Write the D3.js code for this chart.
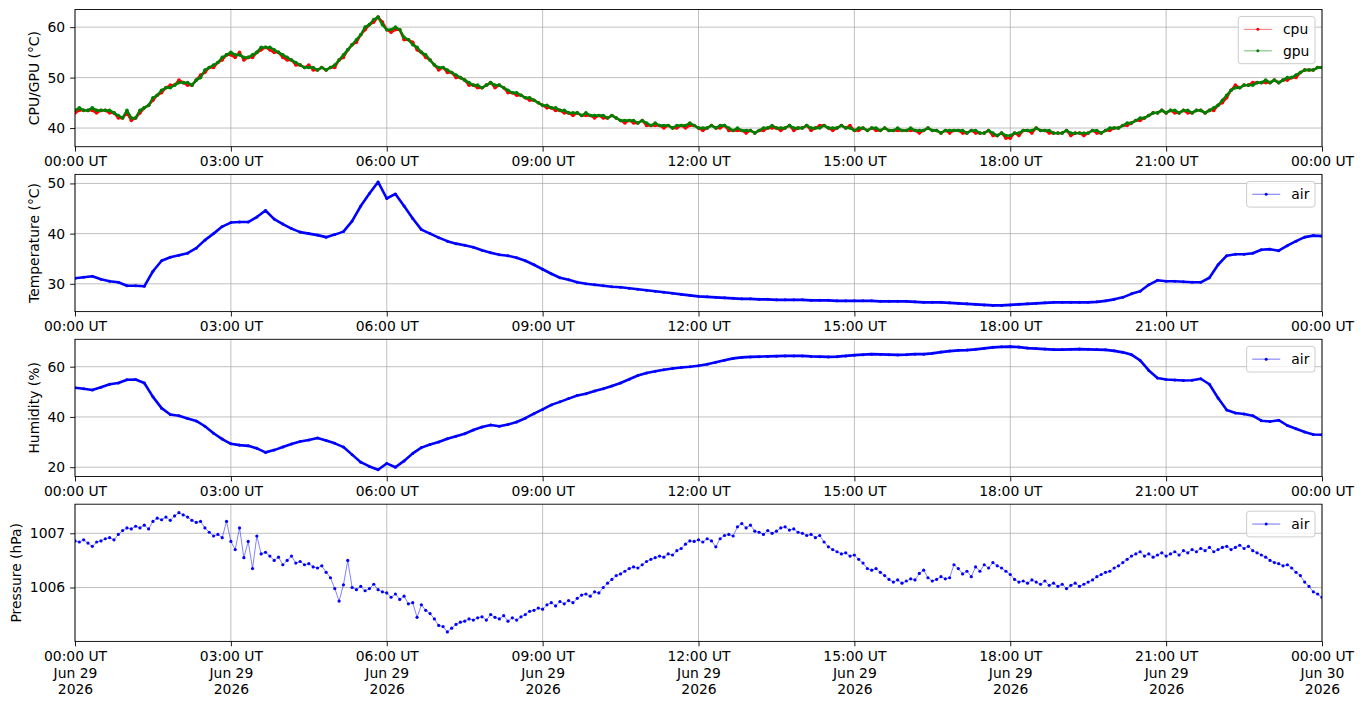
<!DOCTYPE html>
<meta charset="utf-8">
<style>
body{
  margin: 0;
  background: #fff;
  font-family: "DejaVu Sans", sans-serif;
}
svg text{
  fill: #000;
  font-size: 13.9px;
}
.grid line{
  stroke: #b0b0b0;
  stroke-width: 0.8;
}
.spine{
  fill: none;
  stroke: #000;
  stroke-width: 0.9;
}
.tick line{
  stroke: #000;
  stroke-width: 0.9;
}
.legend rect{
  fill: #fff;
  fill-opacity: 0.8;
  stroke: #cccccc;
  stroke-width: 1;
}
</style>

<svg id="chart" width="1363" height="707"></svg>

<script src="https://cdn.jsdelivr.net/npm/d3@7"></script>
<script>
// 2026-06-29 00:00 UT to 2026-06-30 00:00 UT
var startTime = Date.UTC(2026, 5, 29, 0, 0)

// one row per hour, every 5 minutes
var cpu = [
  43.0,43.5,43.5,43.5,43.5,43.0,43.5,43.5,43.0,43.0,42.0,42.0,
  43.0,41.5,42.0,43.0,44.0,44.5,45.5,46.5,47.0,48.0,48.5,48.5,
  49.5,49.0,48.5,48.5,49.5,50.5,51.0,52.0,52.0,53.0,53.5,54.5,
  54.5,54.0,55.0,53.5,54.0,54.0,55.0,55.5,56.0,55.5,55.0,55.0,
  54.0,53.5,53.5,52.5,52.5,52.0,52.5,51.5,51.5,52.0,51.5,52.0,
  52.0,53.5,54.0,55.5,56.5,57.0,58.5,59.5,60.5,61.0,62.0,61.0,
  59.5,59.0,59.5,59.5,57.5,57.5,57.0,55.5,55.0,54.0,53.5,52.5,
  51.5,52.0,51.0,51.0,50.0,50.0,49.5,48.5,48.5,48.0,48.0,48.5,
  49.0,48.0,48.5,48.0,47.0,47.0,46.5,46.5,46.0,45.5,45.5,45.0,
  44.5,44.0,44.0,43.5,43.5,43.0,43.0,42.5,43.0,42.5,42.5,42.5,
  42.0,42.5,42.0,42.0,42.5,42.0,41.5,41.0,41.5,41.0,41.0,41.5,
  40.5,40.5,40.5,40.5,40.0,40.5,40.0,40.0,40.5,40.0,40.5,40.5,
  40.0,39.5,40.0,40.5,40.0,40.0,40.5,39.5,39.5,39.5,39.5,39.0,
  39.5,39.0,39.5,39.5,40.0,40.0,40.0,39.5,40.0,40.5,39.5,40.0,
  40.0,40.5,39.5,40.0,40.5,40.5,40.0,39.5,40.0,40.5,40.0,40.5,
  39.5,39.5,40.0,39.5,40.0,39.5,39.5,40.0,39.5,39.5,39.5,39.5,
  39.5,39.5,39.5,39.0,39.5,40.0,39.5,39.5,39.0,39.5,39.0,39.5,
  39.5,39.0,39.0,39.5,39.0,39.0,39.0,39.5,38.5,38.5,39.0,38.0,
  38.0,39.0,38.5,39.5,39.5,39.0,40.0,39.5,39.5,39.0,39.0,39.0,
  39.0,39.5,38.5,39.0,39.0,38.5,39.0,39.5,39.0,39.0,39.5,39.5,
  40.0,40.0,40.5,40.5,41.0,41.5,41.5,42.0,42.5,43.0,43.0,43.5,
  43.0,43.5,43.0,43.0,43.5,43.0,43.0,43.5,43.5,43.0,43.5,43.5,
  44.5,45.0,46.0,47.5,48.5,48.0,48.5,48.5,49.0,49.0,49.0,49.0,
  49.0,49.5,49.0,49.5,49.5,50.0,50.0,51.0,51.5,51.5,51.5,52.0,
  52.0
]

var gpu = [
  43.5,44.0,43.5,43.5,44.0,43.5,43.5,43.5,43.5,43.0,42.5,42.0,
  43.5,42.0,42.0,43.5,44.0,44.5,46.0,46.5,47.5,48.0,48.0,48.5,
  49.0,49.0,49.0,48.5,49.5,50.0,51.5,52.0,52.5,53.0,54.0,54.5,
  55.0,54.5,54.5,54.0,54.0,54.5,55.0,56.0,56.0,56.0,55.5,55.0,
  54.5,54.0,53.5,53.0,52.5,52.0,52.0,52.0,51.5,52.0,51.5,52.0,
  52.5,53.5,54.5,55.5,56.5,57.5,58.5,60.0,60.5,61.5,62.0,60.5,
  59.5,59.5,60.0,59.5,58.0,57.5,56.5,56.0,55.0,54.5,53.5,52.5,
  52.0,52.0,51.5,51.0,50.5,50.0,49.5,49.0,48.5,48.5,48.0,48.5,
  49.0,48.5,48.5,48.0,47.5,47.0,47.0,46.5,46.0,46.0,45.5,45.0,
  44.5,44.5,44.0,44.0,43.5,43.5,43.0,43.0,43.0,42.5,43.0,42.5,
  42.5,42.5,42.5,42.0,42.5,42.0,41.5,41.5,41.5,41.5,41.0,41.5,
  41.0,40.5,41.0,40.5,40.5,40.5,40.0,40.5,40.5,40.5,41.0,40.5,
  40.0,40.0,40.0,40.5,40.0,40.5,40.5,40.0,39.5,40.0,39.5,39.5,
  39.5,39.0,39.5,40.0,40.0,40.5,40.0,40.0,40.0,40.5,40.0,40.0,
  40.0,40.5,40.0,40.0,40.0,40.5,40.0,40.0,40.0,40.5,40.0,40.0,
  39.5,40.0,40.0,39.5,40.0,40.0,39.5,40.0,39.5,39.5,40.0,39.5,
  39.5,40.0,39.5,39.5,39.5,40.0,39.5,39.5,39.0,39.5,39.5,39.5,
  39.5,39.5,39.0,39.5,39.5,39.0,39.0,39.5,39.0,38.5,39.0,38.5,
  38.5,39.0,39.0,39.5,39.5,39.5,40.0,39.5,39.5,39.5,39.0,39.0,
  39.0,39.5,39.0,39.0,39.0,39.0,39.0,39.5,39.5,39.0,39.5,40.0,
  40.0,40.0,40.5,41.0,41.0,41.5,42.0,42.0,42.5,43.0,43.0,43.5,
  43.0,43.5,43.5,43.0,43.5,43.5,43.0,43.5,43.5,43.0,43.5,44.0,
  44.5,45.5,46.5,47.5,48.0,48.0,48.5,48.5,48.5,49.0,49.0,49.5,
  49.0,49.5,49.0,49.5,50.0,50.0,50.5,51.0,51.5,51.5,51.5,52.0,
  52.0
]

// one row per 100 minutes, every 10 minutes
var airTemperature = [
  31.1,31.3,31.5,30.9,30.5,30.3,29.6,29.6,29.5,32.5,
  34.6,35.3,35.7,36.1,37.1,38.7,40.0,41.4,42.2,42.3,
  42.3,43.3,44.6,42.9,41.9,41.0,40.3,40.0,39.7,39.3,
  39.8,40.4,42.5,45.5,48.0,50.3,47.0,47.9,45.5,43.0,
  40.8,40.0,39.2,38.5,38.0,37.7,37.3,36.7,36.2,35.8,
  35.6,35.2,34.6,33.8,32.9,32.0,31.2,30.8,30.3,30.0,
  29.8,29.6,29.4,29.3,29.1,28.9,28.7,28.5,28.3,28.1,
  27.9,27.7,27.5,27.4,27.3,27.2,27.1,27.0,27.0,26.9,
  26.9,26.8,26.8,26.8,26.8,26.7,26.7,26.7,26.6,26.6,
  26.6,26.6,26.6,26.5,26.5,26.5,26.5,26.4,26.3,26.3,
  26.3,26.2,26.1,26.0,25.9,25.8,25.7,25.7,25.8,25.9,
  26.0,26.1,26.2,26.3,26.3,26.3,26.3,26.3,26.4,26.6,
  26.9,27.3,28.0,28.5,29.8,30.7,30.5,30.5,30.4,30.3,
  30.3,31.2,33.8,35.6,35.9,35.9,36.1,36.8,36.9,36.6,
  37.6,38.5,39.3,39.6,39.5
]

var airHumidity = [
  51.6,51.2,50.7,51.8,53.0,53.5,54.8,54.9,53.5,48.0,
  43.5,41.0,40.5,39.4,38.4,36.3,33.5,31.2,29.3,28.8,
  28.5,27.5,25.9,26.8,28.0,29.2,30.2,30.8,31.6,30.6,
  29.5,28.0,25.0,22.0,20.3,19.0,21.5,20.0,22.5,25.5,
  27.8,29.0,30.0,31.3,32.3,33.3,34.8,36.0,36.8,36.3,
  37.0,38.0,39.5,41.3,43.0,44.8,46.0,47.3,48.5,49.2,
  50.3,51.2,52.3,53.5,55.0,56.5,57.5,58.2,58.8,59.3,
  59.7,60.0,60.4,61.0,61.8,62.6,63.3,63.7,63.9,64.0,
  64.1,64.2,64.3,64.3,64.3,64.1,64.0,63.9,64.0,64.3,
  64.6,64.8,65.0,64.9,64.8,64.7,64.8,65.0,65.0,65.3,
  65.8,66.2,66.5,66.6,66.9,67.3,67.7,67.9,68.0,67.8,
  67.4,67.2,67.0,66.8,66.8,66.9,67.0,66.9,66.8,66.7,
  66.3,65.7,64.8,62.5,58.5,55.5,54.9,54.7,54.5,54.6,
  55.2,53.0,47.5,42.8,41.6,41.2,40.5,38.5,38.2,38.7,
  36.6,35.3,34.0,33.0,32.9
]

// one row per hour, every 5 minutes
var airPressure = [
  1006.86,1006.84,1006.88,1006.82,1006.76,1006.84,1006.86,1006.90,1006.92,1006.88,1006.98,1007.05,
  1007.10,1007.08,1007.13,1007.10,1007.15,1007.08,1007.22,1007.28,1007.25,1007.30,1007.24,1007.32,
  1007.38,1007.34,1007.30,1007.24,1007.20,1007.22,1007.10,1007.02,1006.95,1006.98,1006.92,1007.22,
  1006.85,1006.70,1007.10,1006.55,1006.85,1006.35,1006.95,1006.62,1006.65,1006.58,1006.50,1006.56,
  1006.42,1006.50,1006.58,1006.45,1006.48,1006.42,1006.44,1006.38,1006.36,1006.40,1006.28,1006.18,
  1005.98,1005.75,1006.05,1006.50,1006.00,1005.96,1006.02,1005.94,1005.98,1006.06,1005.96,1005.92,
  1005.90,1005.82,1005.88,1005.78,1005.84,1005.70,1005.72,1005.45,1005.68,1005.58,1005.52,1005.42,
  1005.30,1005.28,1005.18,1005.25,1005.32,1005.36,1005.38,1005.42,1005.40,1005.44,1005.46,1005.40,
  1005.50,1005.45,1005.42,1005.48,1005.38,1005.44,1005.40,1005.46,1005.50,1005.56,1005.58,1005.62,
  1005.60,1005.68,1005.72,1005.66,1005.74,1005.70,1005.76,1005.72,1005.80,1005.86,1005.88,1005.84,
  1005.92,1005.90,1006.00,1006.08,1006.15,1006.22,1006.25,1006.30,1006.35,1006.38,1006.36,1006.42,
  1006.48,1006.52,1006.55,1006.58,1006.56,1006.62,1006.60,1006.68,1006.72,1006.80,1006.86,1006.85,
  1006.88,1006.84,1006.90,1006.86,1006.75,1006.90,1006.96,1006.98,1006.95,1007.12,1007.18,1007.10,
  1007.15,1007.04,1007.02,1006.98,1007.05,1007.00,1007.04,1007.10,1007.12,1007.06,1007.08,1007.02,
  1007.00,1006.96,1006.98,1006.92,1006.96,1006.84,1006.75,1006.70,1006.66,1006.62,1006.64,1006.58,
  1006.60,1006.52,1006.45,1006.35,1006.32,1006.35,1006.28,1006.22,1006.15,1006.10,1006.14,1006.08,
  1006.12,1006.16,1006.14,1006.26,1006.32,1006.18,1006.12,1006.15,1006.20,1006.16,1006.18,1006.42,
  1006.35,1006.25,1006.30,1006.20,1006.38,1006.30,1006.42,1006.36,1006.46,1006.40,1006.36,1006.30,
  1006.24,1006.15,1006.10,1006.12,1006.08,1006.14,1006.10,1006.06,1006.12,1006.04,1006.08,1006.02,
  1006.06,1005.98,1006.04,1006.08,1006.02,1006.06,1006.10,1006.14,1006.20,1006.24,1006.28,1006.30,
  1006.36,1006.40,1006.46,1006.52,1006.58,1006.62,1006.66,1006.58,1006.62,1006.56,1006.60,1006.64,
  1006.58,1006.62,1006.66,1006.60,1006.68,1006.64,1006.70,1006.66,1006.72,1006.68,1006.74,1006.66,
  1006.70,1006.74,1006.76,1006.70,1006.74,1006.78,1006.72,1006.76,1006.68,1006.64,1006.60,1006.56,
  1006.50,1006.46,1006.44,1006.40,1006.42,1006.36,1006.28,1006.22,1006.10,1006.02,1005.92,1005.88,
  1005.82
]

var tickHours = [0, 3, 6, 9, 12, 15, 18, 21, 24]
var timeLabels = ['00:00 UT','03:00 UT','06:00 UT','09:00 UT','12:00 UT','15:00 UT','18:00 UT','21:00 UT','00:00 UT']
var dateLabels = ['Jun 29','Jun 29','Jun 29','Jun 29','Jun 29','Jun 29','Jun 29','Jun 29','Jun 30']
var yearLabels = ['2026','2026','2026','2026','2026','2026','2026','2026','2026']

var yLabels = ['CPU/GPU (°C)', 'Temperature (°C)', 'Humidity (%)', 'Pressure (hPa)']
var yDomains = [[36.3, 63.5], [24.46, 51.8], [16.3, 70.9], [1005.006, 1007.537]]
var yTicks = [[40, 50, 60], [30, 40, 50], [20, 40, 60], [1006, 1007]]

var series = [
  [{name: 'cpu', color: '#ff0000', step: 5, values: cpu}, {name: 'gpu', color: '#008000', step: 5, values: gpu}],
  [{name: 'air', color: '#0000ff', step: 10, values: airTemperature}],
  [{name: 'air', color: '#0000ff', step: 10, values: airHumidity}],
  [{name: 'air', color: '#0000ff', step: 5, values: airPressure}]
]
// smooth sensors look like a solid band, pressure shows separate dots
var lineWidths = [2.4, 2.6, 2.6, 0.7]
var dotR = [1.8, 1.5, 1.5, 1.6]

var left = 75, right = 1322
var panelTop = [9.5, 174.4, 339.3, 504.2]
var panelH = 137.2

var svg = d3.select('#chart')
var hour = 3600e3
var x = d3.scaleUtc()
    .domain([new Date(startTime), new Date(startTime + 24 * hour)])
    .range([left, right])
var tickTimes = tickHours.map(function(h){ return new Date(startTime + h * hour) })

series.forEach(function(group, k){
  var top = panelTop[k], bottom = top + panelH
  var y = d3.scaleLinear().domain(yDomains[k]).range([bottom, top])
  var g = svg.append('g')

  g.append('clipPath').attr('id', 'clip' + k)
    .append('rect')
      .attr('x', left).attr('y', top)
      .attr('width', right - left).attr('height', panelH)

  // grid
  var grid = g.append('g').attr('class', 'grid')
  grid.selectAll('.vx').data(tickTimes).enter().append('line')
      .attr('x1', function(d){ return x(d) }).attr('x2', function(d){ return x(d) })
      .attr('y1', top).attr('y2', bottom)
  grid.selectAll('.hy').data(yTicks[k]).enter().append('line')
      .attr('x1', left).attr('x2', right)
      .attr('y1', function(d){ return y(d) }).attr('y2', function(d){ return y(d) })

  // data
  var plot = g.append('g').attr('clip-path', 'url(#clip' + k + ')')
  group.forEach(function(s){
    var tx = function(d, i){ return x(new Date(startTime + i * s.step * 60e3)) }
    var line = d3.line().x(tx).y(function(d){ return y(d) })
    plot.append('path')
        .attr('d', line(s.values))
        .attr('fill', 'none')
        .attr('stroke', s.color)
        .attr('stroke-width', lineWidths[k])
        .attr('stroke-opacity', k == 3 ? 0.7 : 1)
        .attr('stroke-linejoin', 'round')
    plot.selectAll(null).data(s.values).enter().append('circle')
        .attr('cx', tx)
        .attr('cy', function(d){ return y(d) })
        .attr('r', dotR[k])
        .attr('fill', s.color)
  })

  // x axis
  var xAxis = d3.axisBottom(x)
      .tickValues(tickTimes)
      .tickFormat(function(d, i){ return timeLabels[i] })
      .tickSize(4.9).tickPadding(4.9)
  var xg = g.append('g').attr('transform', 'translate(0,' + bottom + ')').call(xAxis)
  xg.select('.domain').remove()
  xg.attr('font-family', null).attr('font-size', null)
  if (k == 3){
    xg.selectAll('text').each(function(d, i){
      var t = d3.select(this)
      t.append('tspan').attr('x', 0).attr('dy', '1.2em').text(dateLabels[i])
      t.append('tspan').attr('x', 0).attr('dy', '1.2em').text(yearLabels[i])
    })
  }

  // y axis
  var yAxis = d3.axisLeft(y).tickValues(yTicks[k]).tickFormat(d3.format('d'))
      .tickSize(4.9).tickPadding(4.9)
  var yg = g.append('g').attr('transform', 'translate(' + left + ',0)').call(yAxis)
  yg.select('.domain').remove()
  yg.attr('font-family', null).attr('font-size', null)
  var tickW = 0
  yg.selectAll('text').each(function(){ tickW = Math.max(tickW, this.getComputedTextLength()) })

  g.append('text')
      .attr('transform', 'translate(' + (left - 9.8 - tickW - 8.9) + ',' + (top + panelH / 2) + ') rotate(-90)')
      .attr('text-anchor', 'middle')
      .text(yLabels[k])

  // spines
  g.append('rect').attr('class', 'spine')
      .attr('x', left).attr('y', top)
      .attr('width', right - left).attr('height', panelH)

  // legend
  var lg = g.append('g').attr('class', 'legend')
  var box = lg.append('rect').attr('rx', 2.8).attr('ry', 2.8)
  var rowH = 14.5, gap = 7, pad = 5.6
  var textW = 0
  group.forEach(function(s, j){
    var cy = top + 7 + pad + rowH / 2 + j * (rowH + gap)
    lg.append('line')
        .attr('x1', 0).attr('x2', 28).attr('y1', cy).attr('y2', cy)
        .attr('stroke', s.color).attr('stroke-width', 0.8).attr('stroke-opacity', 0.7)
    lg.append('circle').attr('cx', 14).attr('cy', cy).attr('r', 1.5).attr('fill', s.color)
    var t = lg.append('text').attr('x', 28 + 11.1).attr('y', cy).attr('dy', '0.35em').text(s.name)
    textW = Math.max(textW, t.node().getComputedTextLength())
  })
  var boxW = pad + 28 + 11.1 + textW + pad
  var boxH = pad * 2 + group.length * rowH + (group.length - 1) * gap
  box.attr('x', 0).attr('y', top + 7).attr('width', boxW).attr('height', boxH)
  lg.selectAll('line, circle, text').attr('transform', 'translate(' + pad + ',0)')
  lg.attr('transform', 'translate(' + (right - 7 - boxW) + ',0)')
})
</script>
